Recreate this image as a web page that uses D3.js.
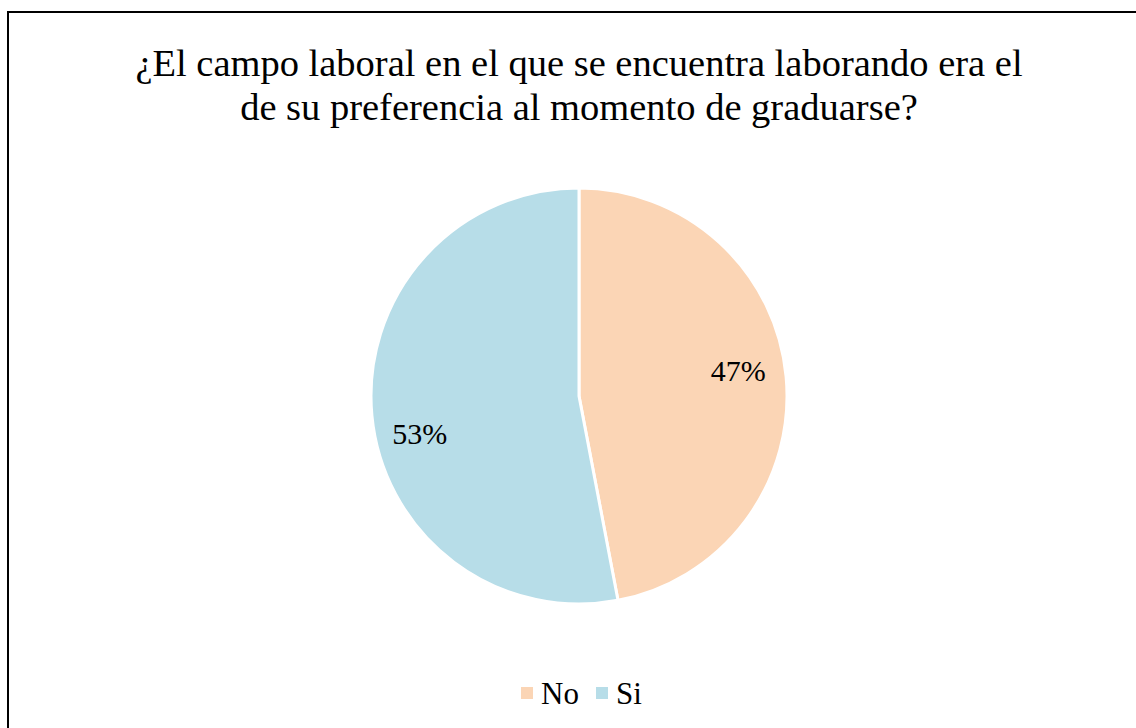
<!doctype html>
<html>
<head>
    <meta charset="utf-8">
    <title>Campo laboral</title>
    <script src="https://d3js.org/d3.v7.min.js"></script>
    <style>
        body { margin: 0; background: #fff; }
        svg { display: block; }
        svg text { font-family: "Liberation Serif", "Times New Roman", serif; }
    </style>
</head>
<body>
    <svg id="chart" width="1136" height="728"></svg>
    <script>
        let categories = ["No", "Si"];
        let values = [47, 53];
        let colors = ["#FBD5B5", "#B7DDE8"];
        let titleLines = ["¿El campo laboral en el que se encuentra laborando era el",
                          "de su preferencia al momento de graduarse?"];

        var svg = d3.select("#chart");

        // chart frame
        svg.append("rect")
          .attr("x", 8).attr("y", 12)
          .attr("width", 1140).attr("height", 730)
          .style("fill", "white")
          .style("stroke", "black")
          .style("stroke-width", 2);

        svg.selectAll("text.title")
          .data(titleLines)
          .enter()
          .append("text")
          .attr("class", "title")
          .attr("x", 579)
          .attr("y", (d, i) => 76 + i * 44)
          .attr("text-anchor", "middle")
          .style("font-size", "38.5px")
          .text(d => d);

        var cx = 579, cy = 396, r = 208;
        var color = d3.scaleOrdinal().domain(categories).range(colors);

        var pie = d3.pie().sort(null).value(d => d.value);
        var arc = d3.arc().innerRadius(0).outerRadius(r);
        var data = categories.map((c, i) => ({name: c, value: values[i]}));
        var total = d3.sum(values);

        var g = svg.append("g").attr("transform", "translate(" + cx + "," + cy + ")");

        g.selectAll("path")
          .data(pie(data))
          .enter()
          .append("path")
          .attr("d", arc)
          .style("fill", d => color(d.data.name))
          .style("stroke", "white")
          .style("stroke-width", 3);

        // labels sit a bit counter-clockwise of the slice middle, like excel does
        function labelPos(d) {
          var a = (d.startAngle + d.endAngle) / 2 - 0.1;
          var rr = r * 0.78;
          return [Math.sin(a) * rr, -Math.cos(a) * rr];
        }
        g.selectAll("text.lbl")
          .data(pie(data))
          .enter()
          .append("text")
          .attr("class", "lbl")
          .attr("transform", d => "translate(" + labelPos(d) + ")")
          .attr("dy", "0.55em")
          .attr("text-anchor", "middle")
          .style("font-size", "30px")
          .text(d => Math.round(d.data.value / total * 100) + "%");

        // legend
        var legendX = [527, 602];
        var leg = svg.selectAll("g.legend")
          .data(categories)
          .enter()
          .append("g")
          .attr("class", "legend")
          .attr("transform", (d, i) => "translate(" + legendX[i] + ",693)");

        leg.append("rect")
          .attr("x", -6).attr("y", -6)
          .attr("width", 12).attr("height", 12)
          .style("fill", d => color(d));

        leg.append("text")
          .attr("x", 14)
          .attr("dy", "0.35em")
          .style("font-size", "31px")
          .text(d => d);
    </script>
</body>
</html>
